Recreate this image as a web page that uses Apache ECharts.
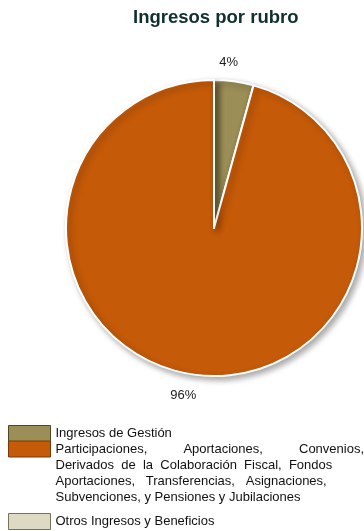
<!DOCTYPE html>
<html>
<head>
<meta charset="utf-8">
<script src="https://cdn.jsdelivr.net/npm/echarts@6/dist/echarts.min.js"></script>
<style>
  html, body { margin: 0; padding: 0; background: #fff; }
  #chart { width: 364px; height: 531px; }
</style>
</head>
<body>
<div id="chart"></div>
<script>
// categorias y valores (porcentaje aprox.)
const categories = [
  'Ingresos de Gestión',
  'Participaciones, Aportaciones, Convenios, Derivados de la Colaboración Fiscal, Fondos Aportaciones, Transferencias, Asignaciones, Subvenciones, y Pensiones y Jubilaciones',
  'Otros Ingresos y Beneficios'
]
const values = [4.3, 95.7, 0]
const colors = ['#9b8e57', '#c55a08', '#ddd9c3']
const borderColors = ['#4d4722', '#7a3905', '#77725a']
// texto de la leyenda, ya partido en lineas
const legendLines = [
  ['Ingresos de Gestión'],
  [
    'Participaciones,          Aportaciones,          Convenios,',
    'Derivados  de  la  Colaboración  Fiscal,  Fondos',
    'Aportaciones,   Transferencias,   Asignaciones,',
    'Subvenciones, y Pensiones y Jubilaciones'
  ],
  ['Otros Ingresos y Beneficios']
]
const legendTops = [425, 441, 513]

const font = 'Liberation Sans, Arial, sans-serif'
const chart = echarts.init(document.getElementById('chart'))

const legends = categories.map(function(name, i) {
  const lines = legendLines[i]
  // lineas vacias arriba para que el icono quede junto a la primera linea
  const pad = []
  for (let k = 1; k < lines.length; k++) pad.push(' ')
  return {
    orient: 'vertical',
    left: 8,
    top: legendTops[i] - pad.length * 16,
    padding: 0,
    itemWidth: 42,
    itemHeight: 16,
    selectedMode: false,
    icon: 'rect',
    data: [{
      name: name,
      itemStyle: { color: colors[i], borderColor: borderColors[i], borderWidth: 1 }
    }],
    formatter: function() { return pad.concat(lines).join('\n') },
    textStyle: {
      fontFamily: font,
      fontSize: 13,
      lineHeight: 16,
      color: '#111'
    }
  }
})

chart.setOption({
  animation: false,
  title: {
    text: 'Ingresos por rubro',
    left: 133,
    top: 8,
    padding: 0,
    textStyle: { fontFamily: font, fontSize: 18.5, fontWeight: 'bold', color: '#10302e' }
  },
  legend: legends,
  series: [{
    type: 'pie',
    center: [214, 228],
    radius: 148,
    startAngle: 90,
    clockwise: true,
    avoidLabelOverlap: false,
    label: {
      show: true,
      position: 'outside',
      fontFamily: font,
      fontSize: 13,
      color: '#222',
      formatter: function(p) { return Math.round(p.percent) + '%' }
    },
    labelLine: { show: false, length: 20, length2: 0 },
    labelLayout: function(p) {
      return { align: 'center', dx: p.dataIndex === 0 ? -13 : -3, dy: 1 }
    },
    itemStyle: {
      borderColor: '#fff',
      borderWidth: 2,
      shadowBlur: 6,
      shadowOffsetX: 3,
      shadowOffsetY: 3,
      shadowColor: 'rgba(0,0,0,0.35)'
    },
    emphasis: { disabled: true },
    data: categories.map(function(name, i) {
      return {
        name: name,
        value: values[i],
        itemStyle: { color: colors[i] },
        label: { show: values[i] > 0 }
      }
    })
  }]
})
</script>
</body>
</html>
